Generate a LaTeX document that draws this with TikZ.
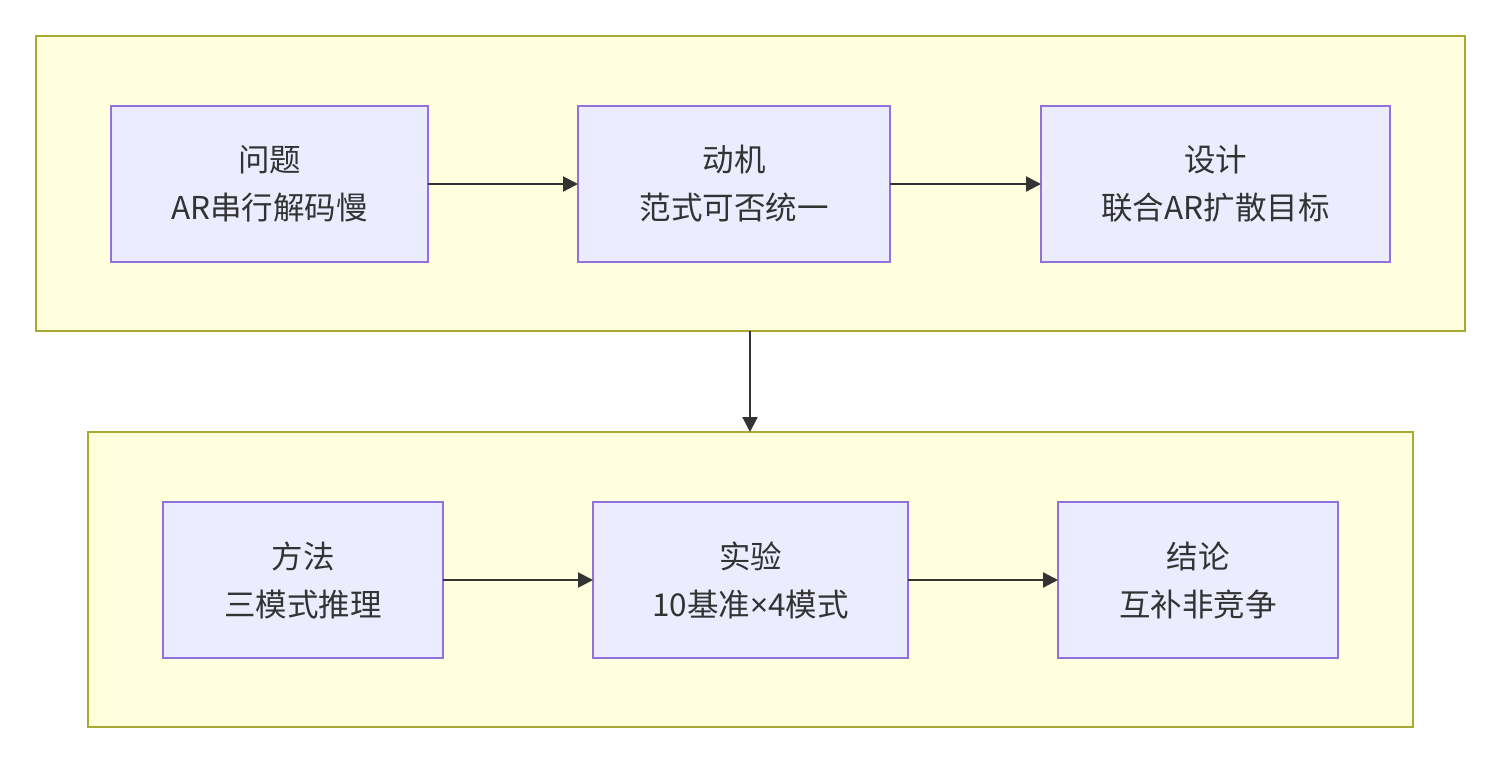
\documentclass[tikz,border=0pt]{standalone}
\usepackage{fontspec}
\setmainfont{Noto Sans CJK SC}
\newfontfamily\latinfont{Noto Sans}
\usetikzlibrary{arrows.meta}
\definecolor{clfill}{HTML}{FFFFDE}
\definecolor{cldraw}{HTML}{AAAA33}
\definecolor{ndfill}{HTML}{ECECFF}
\definecolor{nddraw}{HTML}{9370DB}
\definecolor{txt}{HTML}{333333}
\begin{document}
\begin{tikzpicture}[x=1pt,y=-1pt,
  cluster/.style={draw=cldraw,fill=clfill,line width=1.5pt},
  box/.style={draw=nddraw,fill=ndfill,line width=1.5pt},
  lbl/.style={text=txt,font=\fontsize{31.5}{48}\selectfont,align=center},
  arr/.style={draw=txt,line width=2.2pt,-{Triangle[length=15pt,width=15pt]}}]
\useasboundingbox (0,0) rectangle (1502,764);
% clusters
\draw[cluster] (36,36) rectangle (1465,331);
\coordinate (ctop) at (750,331);
\draw[cluster] (88,432) rectangle (1413,727);
\coordinate (cbot) at (750,432);
% top nodes
\draw[box] (111,106) rectangle (428,262);
\node[lbl] (a) at (269.5,184) {问题\\AR串行解码慢};
\draw[box] (578,106) rectangle (890,262);
\node[lbl] (b) at (734,184) {动机\\范式可否统一};
\draw[box] (1041,106) rectangle (1390,262);
\node[lbl] (c) at (1215.5,184) {设计\\联合AR扩散目标};
% bottom nodes
\draw[box] (163,502) rectangle (443,658);
\node[lbl] (d) at (303,580) {方法\\三模式推理};
\draw[box] (593,502) rectangle (908,658);
\node[lbl] (e) at (750.5,580) {实验\\10基准{\latinfont ×}4模式};
\draw[box] (1058,502) rectangle (1338,658);
\node[lbl] (f) at (1198,580) {结论\\互补非竞争};
% anchors for edges
\coordinate (aE) at (428,184); \coordinate (bW) at (578,184);
\coordinate (bE) at (890,184); \coordinate (cW) at (1041,184);
\coordinate (dE) at (443,580); \coordinate (eW) at (593,580);
\coordinate (eE) at (908,580); \coordinate (fW) at (1058,580);
\draw[arr] (aE) -- (bW);
\draw[arr] (bE) -- (cW);
\draw[arr] (dE) -- (eW);
\draw[arr] (eE) -- (fW);
\draw[arr] (ctop) -- (cbot);
\end{tikzpicture}
\end{document}
